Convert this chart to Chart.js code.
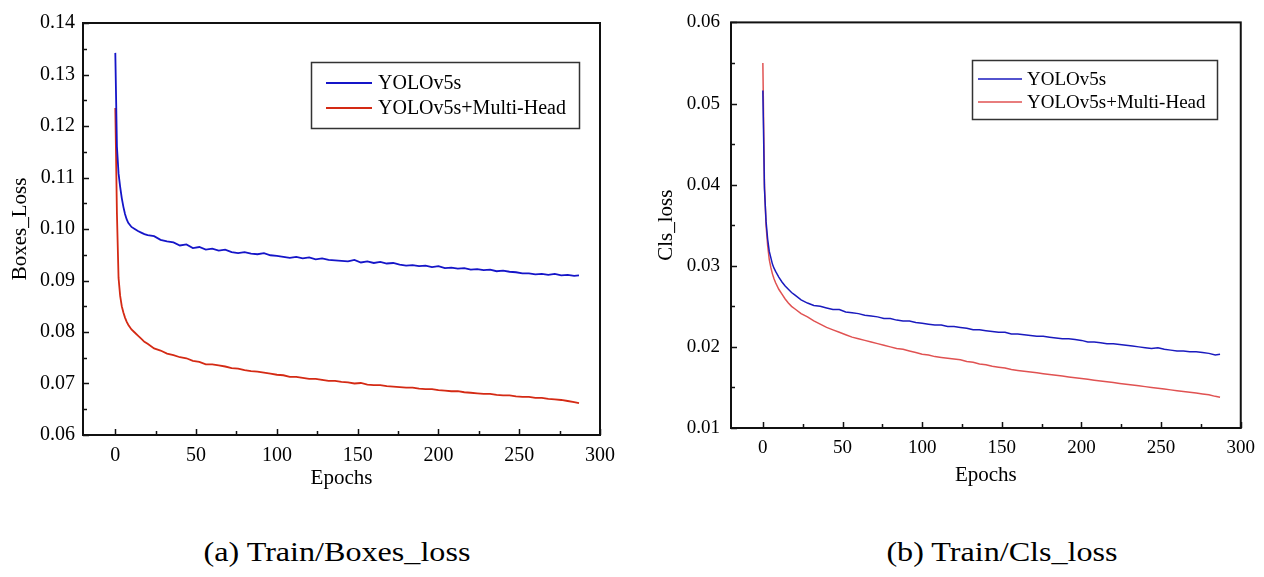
<!DOCTYPE html>
<html>
<head>
<meta charset="utf-8">
<script src="https://cdn.jsdelivr.net/npm/chart.js@4.4.1/dist/chart.umd.min.js"></script>
<style>
  body { margin: 0; background: #fff; }
  #wrap { position: relative; width: 1264px; height: 577px; overflow: hidden; }
  canvas { position: absolute; top: 0; }
  .cap { position: absolute; top: 537px; width: 400px; text-align: center;
         font: 27px 'Liberation Serif', 'Times New Roman', serif; line-height: 30px; color: #000;
         transform: scaleX(1.19); }
</style>
</head>
<body>
<div id="wrap">
  <canvas id="boxChart" width="632" height="500" style="left:0"></canvas>
  <canvas id="clsChart" width="632" height="500" style="left:632px"></canvas>
  <div class="cap" style="left:137px">(a) Train/Boxes_loss</div>
  <div class="cap" style="left:802px">(b) Train/Cls_loss</div>
</div>
<script>
const seriesLabels = ['YOLOv5s', 'YOLOv5s+Multi-Head'];
const epochs = [0,1,2,3,4,5,6,7,8,10,12,14,16,18,20,
  24,28,32,36,40,44,48,52,56,60,64,68,72,76,80,84,88,92,96,100,
  104,108,112,116,120,124,128,132,136,140,144,148,152,156,160,164,168,172,176,180,
  184,188,192,196,200,204,208,212,216,220,224,228,232,236,240,244,248,252,256,260,
  264,268,272,276,280,284,287];

// Train/Boxes_loss
const boxBase = [0.1342,0.1160,0.1108,0.1082,0.1060,0.1043,0.1029,0.1019,0.1012,0.1004,0.1000,0.0996,0.0993,0.0990,0.0988,
  0.0986,0.0979,0.0976,0.0974,0.0968,0.0970,0.0963,0.0965,0.0960,0.0962,
  0.0958,0.0960,0.0955,0.0953,0.0955,0.0952,0.0951,0.0953,0.0949,0.0948,
  0.0946,0.0944,0.0946,0.0943,0.0945,0.0941,0.0943,0.0940,0.0939,0.0938,
  0.0937,0.0940,0.0935,0.0937,0.0934,0.0936,0.0933,0.0934,0.0931,0.0929,
  0.0930,0.0928,0.0929,0.0926,0.0928,0.0924,0.0925,0.0923,0.0924,0.0921,
  0.0922,0.0920,0.0921,0.0918,0.0919,0.0917,0.0916,0.0914,0.0914,0.0912,
  0.0913,0.0911,0.0913,0.0910,0.0911,0.0909,0.0910];
const boxMulti = [0.1235,0.1030,0.0905,0.0870,0.0850,0.0838,0.0828,0.0820,0.0814,0.0805,0.0799,0.0793,0.0787,0.0781,0.0777,
  0.0768,0.0764,0.0758,0.0755,0.0751,0.0749,0.0744,0.0742,0.0737,0.0737,
  0.0735,0.0733,0.0730,0.0729,0.0726,0.0724,0.0723,0.0721,0.0719,0.0717,
  0.0716,0.0713,0.0713,0.0711,0.0709,0.0709,0.0707,0.0705,0.0705,0.0703,
  0.0702,0.0700,0.0701,0.0698,0.0697,0.0697,0.0695,0.0694,0.0693,0.0692,
  0.0692,0.0690,0.0689,0.0689,0.0687,0.0686,0.0685,0.0685,0.0683,0.0682,
  0.0681,0.0680,0.0680,0.0678,0.0677,0.0677,0.0675,0.0674,0.0674,0.0672,
  0.0672,0.0670,0.0669,0.0668,0.0666,0.0664,0.0662];

// Train/Cls_loss
const clsBase = [0.0516,0.0395,0.0355,0.0333,0.0318,0.0310,0.0302,0.0297,0.0293,0.0286,0.0280,0.0275,0.0271,0.0267,0.0264,
  0.0258,0.0254,0.0251,0.0250,0.0248,0.0246,0.0246,0.0243,0.0242,0.0241,
  0.0239,0.0238,0.0237,0.0235,0.0235,0.0233,0.0232,0.0232,0.0230,0.0229,
  0.0228,0.0227,0.0227,0.0225,0.0225,0.0224,0.0223,0.0221,0.0221,0.0220,
  0.0219,0.0218,0.0218,0.0216,0.0216,0.0215,0.0214,0.0213,0.0213,0.0212,
  0.0211,0.0210,0.0210,0.0209,0.0208,0.0206,0.0206,0.0205,0.0204,0.0204,
  0.0203,0.0202,0.0201,0.0200,0.0199,0.0198,0.0199,0.0197,0.0196,0.0195,
  0.0195,0.0194,0.0194,0.0193,0.0192,0.0190,0.0191];
const clsMulti = [0.0550,0.0400,0.0350,0.0325,0.0308,0.0298,0.0290,0.0284,0.0279,0.0271,0.0265,0.0259,0.0254,0.0250,0.0247,
  0.0241,0.0237,0.0232,0.0228,0.0224,0.0221,0.0218,0.0215,0.0212,0.0210,
  0.0208,0.0206,0.0204,0.0202,0.0200,0.0198,0.0197,0.0195,0.0193,0.0191,
  0.0190,0.0188,0.0187,0.0186,0.0185,0.0184,0.0182,0.0181,0.0179,0.0178,
  0.0176,0.0175,0.0174,0.0172,0.0171,0.0170,0.0169,0.0168,0.0167,0.0166,
  0.0165,0.0164,0.0163,0.0162,0.0161,0.0160,0.0159,0.0158,0.0157,0.0156,
  0.0155,0.0154,0.0153,0.0152,0.0151,0.0150,0.0149,0.0148,0.0147,0.0146,
  0.0145,0.0144,0.0143,0.0142,0.0141,0.0139,0.0138];

const xTicks = [0, 50, 100, 150, 200, 250, 300];
const boxYTicks = [0.06, 0.07, 0.08, 0.09, 0.10, 0.11, 0.12, 0.13, 0.14];
const clsYTicks = [0.01, 0.02, 0.03, 0.04, 0.05, 0.06];

const serif = "'Liberation Serif', 'Times New Roman', serif";

// frame, inward ticks and the boxed legend
const frameLegend = {
  id: 'frameLegend',
  afterDraw(chart, args, o) {
    const { ctx, chartArea: a, scales: { x, y } } = chart;
    ctx.save();
    ctx.strokeStyle = '#111';
    ctx.lineWidth = 1.5;
    ctx.beginPath();
    const xt = x.ticks.map(t => t.value), yt = y.ticks.map(t => t.value);
    xt.forEach((v, i) => {
      const px = Math.round(x.getPixelForValue(v)) + 0.5;
      ctx.moveTo(px, a.bottom); ctx.lineTo(px, a.bottom - 6);
      if (i < xt.length - 1) {
        const mx = Math.round(x.getPixelForValue((v + xt[i + 1]) / 2)) + 0.5;
        ctx.moveTo(mx, a.bottom); ctx.lineTo(mx, a.bottom - 4);
      }
    });
    yt.forEach((v, i) => {
      const py = Math.round(y.getPixelForValue(v)) + 0.5;
      ctx.moveTo(a.left, py); ctx.lineTo(a.left + 6, py);
      if (i < yt.length - 1) {
        const my = Math.round(y.getPixelForValue((v + yt[i + 1]) / 2)) + 0.5;
        ctx.moveTo(a.left, my); ctx.lineTo(a.left + 4, my);
      }
    });
    ctx.stroke();
    ctx.lineWidth = 2;
    ctx.strokeRect(a.left, a.top, a.right - a.left, a.bottom - a.top);

    // legend
    const L = o.box;
    ctx.lineWidth = 1.5;
    ctx.strokeStyle = '#333';
    ctx.strokeRect(L.x + 0.5, L.y + 0.5, L.w, L.h);
    ctx.font = o.fontSize + 'px ' + serif;
    ctx.textBaseline = 'middle';
    ctx.fillStyle = '#000';
    chart.data.datasets.forEach((ds, i) => {
      const ly = L.y + L.rows[i];
      ctx.strokeStyle = ds.borderColor;
      ctx.lineWidth = ds.borderWidth;
      ctx.beginPath();
      ctx.moveTo(L.x + L.lineX0, ly); ctx.lineTo(L.x + L.lineX1, ly);
      ctx.stroke();
      ctx.fillText(ds.label, L.x + L.textX, ly + 1);
    });
    ctx.restore();
  }
};

function makeChart(id, base, multi, yTicks, colors, widths, cfg) {
  return new Chart(document.getElementById(id), {
    type: 'line',
    data: {
      datasets: [
        { label: seriesLabels[0], data: epochs.map((e, i) => ({ x: e, y: base[i] })),
          borderColor: colors[0], borderWidth: widths, pointRadius: 0, tension: 0 },
        { label: seriesLabels[1], data: epochs.map((e, i) => ({ x: e, y: multi[i] })),
          borderColor: colors[1], borderWidth: widths, pointRadius: 0, tension: 0 }
      ]
    },
    plugins: [frameLegend],
    options: {
      responsive: false,
      animation: false,
      layout: { padding: { top: cfg.top, right: cfg.right, left: 0, bottom: 0 } },
      plugins: {
        legend: { display: false },
        tooltip: { enabled: false },
        frameLegend: { box: cfg.legend, fontSize: cfg.legendFont }
      },
      scales: {
        x: {
          type: 'linear', min: -20, max: 300,
          grid: { display: false, drawTicks: false }, border: { display: false },
          afterBuildTicks: s => { s.ticks = xTicks.map(v => ({ value: v })); },
          afterFit: s => { s.height = cfg.xHeight; },
          ticks: { padding: cfg.xPad, color: '#000', font: { family: serif, size: cfg.tickFont } },
          title: { display: true, text: 'Epochs', color: '#000', padding: { top: 0, bottom: cfg.xTitlePad },
                   font: { family: serif, size: 21 } }
        },
        y: {
          min: yTicks[0], max: yTicks[yTicks.length - 1],
          grid: { display: false, drawTicks: false }, border: { display: false },
          afterBuildTicks: s => { s.ticks = yTicks.map(v => ({ value: v })); },
          afterFit: s => { s.width = cfg.yWidth; },
          ticks: { padding: cfg.yPad, color: '#000', font: { family: serif, size: cfg.tickFont },
                   callback: v => v.toFixed(2) },
          title: { display: true, text: cfg.yTitle, color: '#000', padding: { top: cfg.yTitlePad, bottom: 0 },
                   font: { family: serif, size: 21 } }
        }
      }
    }
  });
}

makeChart('boxChart', boxBase, boxMulti, boxYTicks, ['#1515c8', '#d42a14'], 1.8, {
  top: 23, right: 32, yWidth: 83, xHeight: 65, xPad: 9, yPad: 8, xTitlePad: 9, yTitlePad: 8,
  tickFont: 20, yTitle: 'Boxes_Loss', legendFont: 20,
  legend: { x: 311, y: 62, w: 268, h: 66, rows: [21, 46], lineX0: 15, lineX1: 61, textX: 67 }
});

makeChart('clsChart', clsBase, clsMulti, clsYTicks, ['#1a1abe', '#e05252'], 1.5, {
  top: 16, right: 20, yWidth: 99, xHeight: 72, xPad: 9, yPad: 11, xTitlePad: 12, yTitlePad: 22,
  tickFont: 19, yTitle: 'Cls_loss', legendFont: 19,
  legend: { x: 340, y: 60, w: 245, h: 59, rows: [19, 42], lineX0: 6, lineX1: 50, textX: 55 }
});
</script>
</body>
</html>
